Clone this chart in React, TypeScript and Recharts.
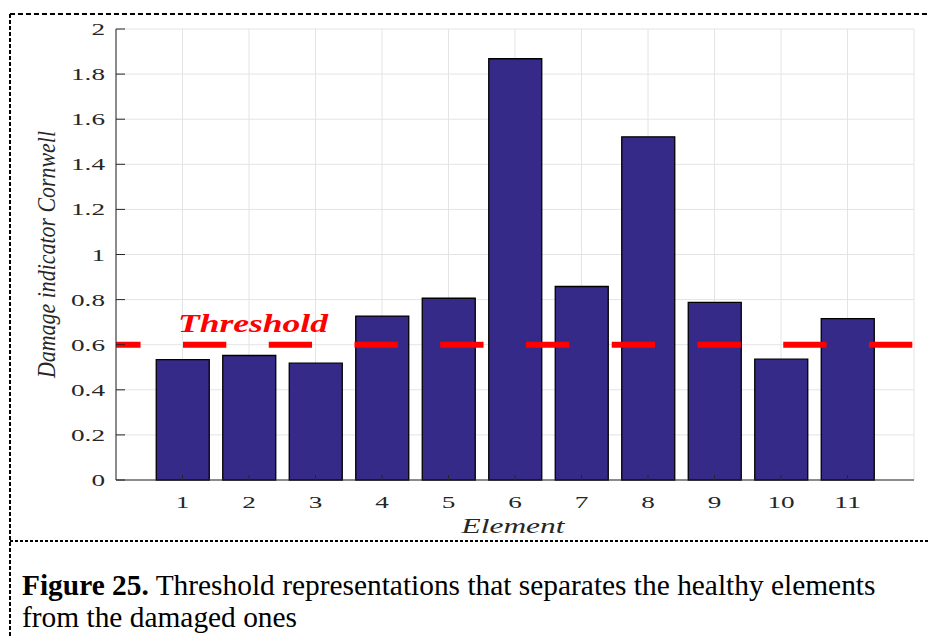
import React from 'react';
import { BarChart, Bar, XAxis, YAxis, CartesianGrid, ReferenceLine } from 'recharts';

const elements = [1, 2, 3, 4, 5, 6, 7, 8, 9, 10, 11];
const cornwell = [0.534, 0.552, 0.518, 0.727, 0.806, 1.868, 0.858, 1.522, 0.788, 0.536, 0.716];
const yTicks = [0, 0.2, 0.4, 0.6, 0.8, 1, 1.2, 1.4, 1.6, 1.8, 2];
const threshold = 0.6;

const data = elements.map((element, i) => ({ element, value: cornwell[i] }));

const SERIF = '"Liberation Serif", "Times New Roman", serif';
const AXIS = '#262626';
const TICK_FONT = 17;
const STRETCH = 1.6;

// stretched width of a numeric label (digits are 0.5em, the dot 0.25em)
const labelLength = (s: string) =>
  s.split('').reduce((w, c) => w + (c === '.' ? 0.25 : 0.5), 0) * TICK_FONT * STRETCH;

// MATLAB style: ticks point inwards
const BottomTick = (props: any) => {
  const { x, y, payload } = props;
  const s = String(payload.value);
  const len = labelLength(s);
  return (
    <g>
      <line x1={x} y1={y} x2={x} y2={y - 5} stroke={AXIS} />
      <text
        x={x - len / 2}
        y={y + 28}
        fontFamily={SERIF}
        fontSize={TICK_FONT}
        fill={AXIS}
        textLength={len}
        lengthAdjust="spacingAndGlyphs"
      >
        {s}
      </text>
    </g>
  );
};

const LeftTick = (props: any) => {
  const { x, y, payload } = props;
  const s = String(payload.value);
  const len = labelLength(s);
  return (
    <g>
      <line x1={x} y1={y} x2={x + 9} y2={y} stroke={AXIS} />
      <text
        x={x - 11 - len}
        y={y + 6}
        fontFamily={SERIF}
        fontSize={TICK_FONT}
        fill={AXIS}
        textLength={len}
        lengthAdjust="spacingAndGlyphs"
      >
        {s}
      </text>
    </g>
  );
};

const TopTick = (props: any) => {
  const { x, y } = props;
  return <line x1={x} y1={y} x2={x} y2={y + 5} stroke={AXIS} />;
};

const RightTick = (props: any) => {
  const { x, y } = props;
  return <line x1={x} y1={y} x2={x - 8} y2={y} stroke={AXIS} />;
};

const ThresholdLabel = (props: any) => {
  const vb = props.viewBox || {};
  const x = (vb.x ?? 116) + 62;
  const y = (vb.y ?? 344) - 13;
  return (
    <text
      x={x}
      y={y}
      fill="#ff0000"
      fontFamily={SERIF}
      fontStyle="italic"
      fontWeight="bold"
      fontSize={26}
      textLength={150}
      lengthAdjust="spacingAndGlyphs"
    >
      Threshold
    </text>
  );
};

const ElementLabel = (props: any) => {
  const vb = props.viewBox || {};
  const cx = (vb.x ?? 116) + (vb.width ?? 798) / 2 - 2;
  const y = (vb.y ?? 480) + 53;
  return (
    <text
      x={cx - 51.5}
      y={y}
      fill={AXIS}
      fontFamily={SERIF}
      fontStyle="italic"
      fontSize={20}
      textLength={103}
      lengthAdjust="spacingAndGlyphs"
    >
      Element
    </text>
  );
};

const CornwellLabel = (props: any) => {
  const vb = props.viewBox || {};
  const x = (vb.x ?? 16) + 39;
  const cy = (vb.y ?? 29) + (vb.height ?? 451) / 2;
  return (
    <text
      x={x}
      y={cy + 123.5}
      transform={`rotate(-90, ${x}, ${cy + 123.5})`}
      fill={AXIS}
      fontFamily={SERIF}
      fontStyle="italic"
      fontSize={25}
      textLength={247}
      lengthAdjust="spacingAndGlyphs"
    >
      Damage indicator Cornwell
    </text>
  );
};

const DamageChart: React.FC = () => (
  <BarChart
    width={932}
    height={545}
    data={data}
    margin={{ top: 29, right: 18, left: 16, bottom: 5 }}
  >
    <CartesianGrid stroke="#e4e4e4" />
    <XAxis
      dataKey="element"
      type="number"
      domain={[0, 12]}
      ticks={elements}
      height={60}
      tickSize={0}
      tickMargin={0}
      tickLine={false}
      axisLine={{ stroke: AXIS }}
      tick={BottomTick}
      label={<ElementLabel />}
    />
    <XAxis
      xAxisId="top"
      orientation="top"
      dataKey="element"
      type="number"
      domain={[0, 12]}
      ticks={elements}
      height={0}
      tickSize={0}
      tickMargin={0}
      tickLine={false}
      axisLine={{ stroke: AXIS }}
      tick={TopTick}
    />
    <YAxis
      type="number"
      domain={[0, 2]}
      ticks={yTicks}
      width={100}
      tickSize={0}
      tickMargin={0}
      tickLine={false}
      axisLine={{ stroke: AXIS }}
      tick={LeftTick}
      label={<CornwellLabel />}
    />
    <YAxis
      yAxisId="right"
      orientation="right"
      type="number"
      domain={[0, 2]}
      ticks={yTicks}
      width={0}
      tickSize={0}
      tickMargin={0}
      tickLine={false}
      axisLine={{ stroke: AXIS }}
      tick={RightTick}
    />
    <Bar
      dataKey="value"
      fill="#352a87"
      stroke="#000000"
      strokeWidth={1.3}
      barSize={53}
      isAnimationActive={false}
    />
    <ReferenceLine
      y={threshold}
      stroke="#ff0000"
      strokeWidth={6}
      strokeDasharray="43.3 42.45"
      strokeDashoffset={18.75}
      label={<ThresholdLabel />}
    />
  </BarChart>
);

export default function App() {
  return (
    <div style={{ position: 'absolute', left: 0, top: 0, width: 932, height: 637, background: '#fff', overflow: 'hidden' }}>
      <DamageChart />
      <svg
        width={932}
        height={637}
        style={{ position: 'absolute', left: 0, top: 0, pointerEvents: 'none' }}
      >
        <line x1={10} y1={14} x2={930} y2={14} stroke="#000" strokeWidth={2} strokeDasharray="5 3" />
        <line x1={10} y1={14} x2={10} y2={637} stroke="#000" strokeWidth={2} strokeDasharray="4 2" />
        <line x1={10} y1={541} x2={930} y2={541} stroke="#000" strokeWidth={2} strokeDasharray="3 2" />
      </svg>
      <div
        style={{
          position: 'absolute',
          left: 22,
          top: 569,
          fontFamily: SERIF,
          fontSize: 29.4,
          lineHeight: '32px',
          color: '#000',
          whiteSpace: 'nowrap',
        }}
      >
        <div>
          <b>Figure 25.</b> Threshold representations that separates the healthy elements
        </div>
        <div>from the damaged ones</div>
      </div>
    </div>
  );
}
